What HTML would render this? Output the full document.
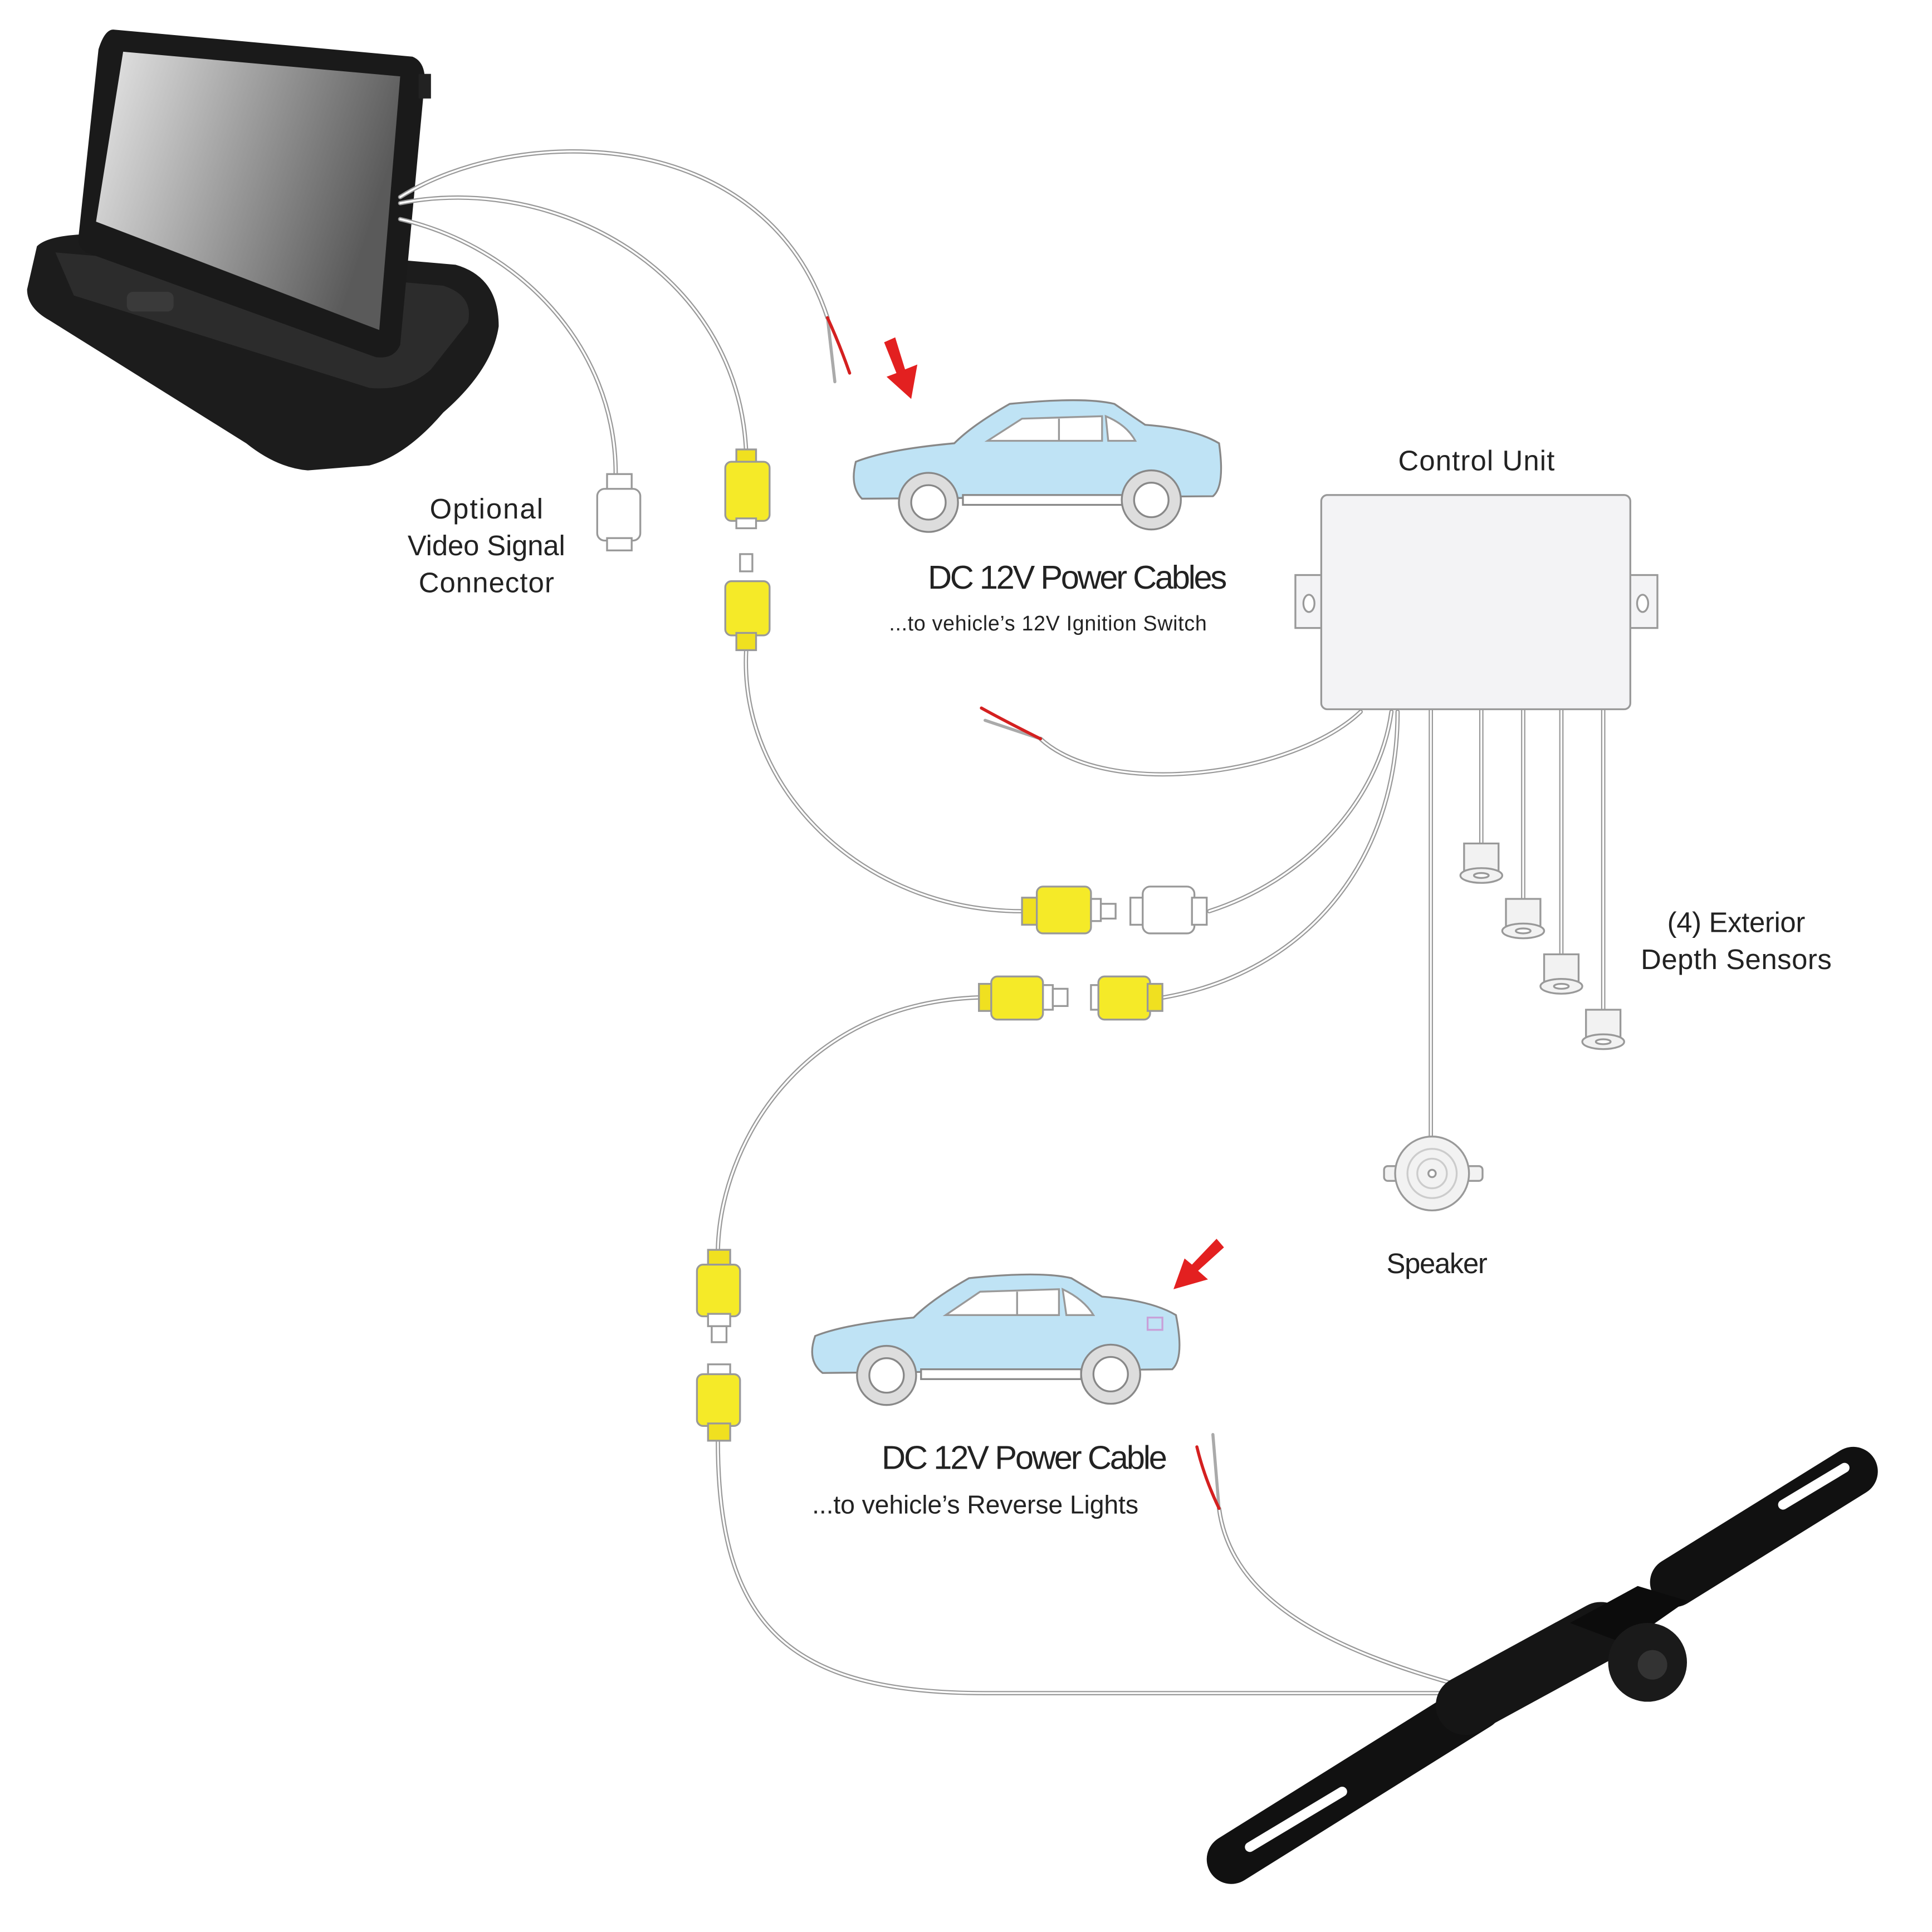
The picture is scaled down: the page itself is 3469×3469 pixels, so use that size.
<!DOCTYPE html>
<html><head><meta charset="utf-8"><style>html,body{margin:0;padding:0;background:#fff}svg{display:block}text{font-family:"Liberation Sans",sans-serif;fill:#222}</style></head><body>
<svg width="3469" height="3469" viewBox="0 0 1569 1569" xmlns="http://www.w3.org/2000/svg">
<defs>
<linearGradient id="scr" x1="0" y1="0" x2="1" y2="0.3"><stop offset="0" stop-color="#e8e8e8"/><stop offset="1" stop-color="#5a5a5a"/></linearGradient>
</defs>
<!-- monitor -->
<path d="M30,200 Q40,190 80,190 L370,215 Q405,225 405,265 Q400,300 360,335 Q330,370 300,378 L250,382 Q225,380 200,360 L40,260 Q22,250 22,235 Z" fill="#1c1c1c"/>
<path d="M45,205 L360,232 Q385,240 380,262 L350,300 Q330,318 300,315 L60,240 Z" fill="#2c2c2c"/>
<path d="M92,24 L335,46 Q345,50 345,65 L325,280 Q320,292 305,290 L70,205 Q62,200 64,190 L80,40 Q85,24 92,24 Z" fill="#1a1a1a"/>
<path d="M100,42 L325,62 L308,268 L78,180 Z" fill="url(#scr)"/>
<rect x="340" y="60" width="10" height="20" fill="#222"/>
<rect x="103" y="237" width="38" height="16" rx="5" fill="#3a3a3a"/>
<!-- cables -->
<g fill="none" stroke-linecap="round">
<g stroke="#999" stroke-width="3.5">
<path d="M325,160 C420,100 620,100 672,258"/>
<path d="M325,165 C450,140 600,220 606,368"/>
<path d="M325,178 C420,200 500,280 500,385"/>
<path d="M606,528 C600,640 700,740 830,740"/>
<path d="M982,740 C1060,715 1120,650 1130,578"/>
<path d="M945,810 C1060,790 1135,700 1135,578"/>
<path d="M795,810 C650,815 585,930 583,1015"/>
<path d="M583,1170 C583,1320 640,1375 800,1375 L1200,1375"/>
<path d="M1190,1370 C1080,1340 1000,1300 990,1225"/>
<path d="M1105,578 C1050,630 900,650 845,600"/>
<path d="M1203,576 V685 M1237,576 V730 M1268,576 V775 M1302,576 V820 M1162,576 V925"/>
</g>
<g stroke="#fff" stroke-width="1.5">
<path d="M325,160 C420,100 620,100 672,258"/>
<path d="M325,165 C450,140 600,220 606,368"/>
<path d="M325,178 C420,200 500,280 500,385"/>
<path d="M606,528 C600,640 700,740 830,740"/>
<path d="M982,740 C1060,715 1120,650 1130,578"/>
<path d="M945,810 C1060,790 1135,700 1135,578"/>
<path d="M795,810 C650,815 585,930 583,1015"/>
<path d="M583,1170 C583,1320 640,1375 800,1375 L1200,1375"/>
<path d="M1190,1370 C1080,1340 1000,1300 990,1225"/>
<path d="M1105,578 C1050,630 900,650 845,600"/>
<path d="M1203,576 V685 M1237,576 V730 M1268,576 V775 M1302,576 V820 M1162,576 V925"/>
</g>
<path d="M672,258 L678,310" stroke="#aaa" stroke-width="2.5"/>
<path d="M672,258 Q682,280 690,303" stroke="#d42020" stroke-width="2.5"/>
<path d="M845,600 L800,585" stroke="#aaa" stroke-width="2.5"/>
<path d="M845,600 Q815,585 797,575" stroke="#d42020" stroke-width="2.5"/>
<path d="M990,1225 L985,1165" stroke="#aaa" stroke-width="2.5"/>
<path d="M990,1225 Q978,1200 972,1175" stroke="#d42020" stroke-width="2.5"/>
</g>
<!-- connectors -->
<g stroke="#999" stroke-width="1.5">
<rect x="598" y="365" width="16" height="12" fill="#f0e020"/>
<rect x="589" y="375" width="36" height="48" rx="5" fill="#f5ea28"/>
<rect x="598" y="421" width="16" height="8" fill="#fff"/>
<rect x="601" y="450" width="10" height="14" fill="#fff"/>
<rect x="589" y="472" width="36" height="44" rx="5" fill="#f5ea28"/>
<rect x="598" y="514" width="16" height="14" fill="#f0e020"/>
<rect x="493" y="385" width="20" height="14" fill="#fff"/>
<rect x="485" y="397" width="35" height="42" rx="6" fill="#fff"/>
<rect x="493" y="437" width="20" height="10" fill="#fff"/>
<rect x="830" y="729" width="14" height="22" fill="#f0e020"/>
<rect x="842" y="720" width="44" height="38" rx="5" fill="#f5ea28"/>
<rect x="886" y="730" width="8" height="18" fill="#fff"/>
<rect x="894" y="734" width="12" height="12" fill="#fff"/>
<rect x="918" y="729" width="12" height="22" fill="#fff"/>
<rect x="928" y="720" width="42" height="38" rx="6" fill="#fff"/>
<rect x="968" y="729" width="12" height="22" fill="#fff"/>
<rect x="795" y="799" width="12" height="22" fill="#f0e020"/>
<rect x="805" y="793" width="42" height="35" rx="5" fill="#f5ea28"/>
<rect x="847" y="800" width="8" height="20" fill="#fff"/>
<rect x="855" y="803" width="12" height="14" fill="#fff"/>
<rect x="886" y="800" width="8" height="20" fill="#fff"/>
<rect x="892" y="793" width="42" height="35" rx="5" fill="#f5ea28"/>
<rect x="932" y="799" width="12" height="22" fill="#f0e020"/>
<rect x="575" y="1015" width="18" height="14" fill="#f0e020"/>
<rect x="566" y="1027" width="35" height="42" rx="5" fill="#f5ea28"/>
<rect x="575" y="1067" width="18" height="10" fill="#fff"/>
<rect x="578" y="1077" width="12" height="13" fill="#fff"/>
<rect x="575" y="1108" width="18" height="10" fill="#fff"/>
<rect x="566" y="1116" width="35" height="42" rx="5" fill="#f5ea28"/>
<rect x="575" y="1156" width="18" height="14" fill="#f0e020"/>
</g>
<!-- control unit -->
<g stroke="#999" stroke-width="1.5" fill="#f3f3f5">
<rect x="1052" y="467" width="24" height="43"/>
<rect x="1322" y="467" width="24" height="43"/>
<ellipse cx="1063" cy="490" rx="4.5" ry="7" fill="#fff"/>
<ellipse cx="1334" cy="490" rx="4.5" ry="7" fill="#fff"/>
<rect x="1073" y="402" width="251" height="174" rx="5"/>
</g>
<!-- sensors -->
<g stroke="#999" stroke-width="1.5" fill="#f2f2f2">
<path d="M1189,685 h28 v22 h-28 z"/><ellipse cx="1203" cy="711" rx="17" ry="6"/><ellipse cx="1203" cy="711" rx="6" ry="2" fill="#fff"/>
<path d="M1223,730 h28 v22 h-28 z"/><ellipse cx="1237" cy="756" rx="17" ry="6"/><ellipse cx="1237" cy="756" rx="6" ry="2" fill="#fff"/>
<path d="M1254,775 h28 v22 h-28 z"/><ellipse cx="1268" cy="801" rx="17" ry="6"/><ellipse cx="1268" cy="801" rx="6" ry="2" fill="#fff"/>
<path d="M1288,820 h28 v22 h-28 z"/><ellipse cx="1302" cy="846" rx="17" ry="6"/><ellipse cx="1302" cy="846" rx="6" ry="2" fill="#fff"/>
<rect x="1124" y="947" width="80" height="12" rx="3"/>
<circle cx="1163" cy="953" r="30"/>
<circle cx="1163" cy="953" r="20" fill="none" stroke="#ccc"/>
<circle cx="1163" cy="953" r="12" fill="none" stroke="#ccc"/>
<circle cx="1163" cy="953" r="3" fill="#fff"/>
</g>
<!-- cars -->
<g stroke="#888" stroke-width="1.5">
<path d="M695,375 Q690,395 700,405 L985,403 Q995,395 990,360 Q970,348 930,345 L905,328 Q880,322 820,328 Q790,345 775,360 Q720,365 695,375 Z" fill="#bfe3f5"/>
<path d="M802,358 L830,340 L895,338 L895,358 Z M860,340 L860,358 M898,338 Q915,345 922,358 L900,358 Z" fill="#fff" stroke="#999"/>
<rect x="782" y="402" width="130" height="8" fill="#fff"/>
<circle cx="754" cy="408" r="24" fill="#ddd"/><circle cx="754" cy="408" r="14" fill="#fff"/>
<circle cx="935" cy="406" r="24" fill="#ddd"/><circle cx="935" cy="406" r="14" fill="#fff"/>
<path d="M662,1085 Q655,1105 668,1115 L952,1112 Q962,1103 955,1068 Q935,1056 895,1053 L870,1038 Q845,1032 787,1038 Q757,1055 742,1070 Q687,1075 662,1085 Z" fill="#bfe3f5"/>
<path d="M768,1068 L796,1049 L860,1047 L860,1068 Z M826,1049 L826,1068 M863,1047 Q880,1055 888,1068 L866,1068 Z" fill="#fff" stroke="#999"/>
<path d="M932,1070 h12 v10 h-12 z" fill="none" stroke="#c8a0d8"/>
<rect x="748" y="1112" width="130" height="8" fill="#fff"/>
<circle cx="720" cy="1117" r="24" fill="#ddd"/><circle cx="720" cy="1117" r="14" fill="#fff"/>
<circle cx="902" cy="1116" r="24" fill="#ddd"/><circle cx="902" cy="1116" r="14" fill="#fff"/>
</g>
<!-- arrows -->
<path d="M718,278 L727,274 L735,300 L745,296 L740,324 L720,306 L728,303 Z" fill="#e32020"/>
<path d="M988,1006 L994,1013 L973,1032 L981,1039 L953,1047 L962,1022 L968,1027 Z" fill="#e32020"/>
<!-- camera -->
<g stroke-linecap="round" fill="none">
<path d="M1000,1510 L1200,1385" stroke="#111" stroke-width="40"/>
<path d="M1360,1285 L1505,1195" stroke="#111" stroke-width="40"/>
<path d="M1190,1385 L1300,1325" stroke="#151515" stroke-width="48"/>
<path d="M1015,1500 L1090,1455 M1448,1222 L1498,1192" stroke="#fff" stroke-width="8"/>
</g>
<path d="M1275,1318 L1330,1288 L1370,1300 L1320,1335 Z" fill="#0c0c0c"/>
<circle cx="1338" cy="1350" r="32" fill="#1a1a1a"/>
<circle cx="1342" cy="1352" r="12" fill="#333"/>
<!-- text -->
<text x="395" y="421" font-size="23" text-anchor="middle" textLength="92">Optional</text>
<text x="395" y="451" font-size="23" text-anchor="middle" textLength="128">Video Signal</text>
<text x="395" y="481" font-size="23" text-anchor="middle" textLength="110">Connector</text>
<text x="875" y="478" font-size="27" text-anchor="middle" textLength="243">DC 12V Power Cables</text>
<text x="851" y="512" font-size="17" text-anchor="middle" textLength="258">...to vehicle’s 12V Ignition Switch</text>
<text x="1199" y="382" font-size="23" text-anchor="middle" textLength="127">Control Unit</text>
<text x="1410" y="757" font-size="23" text-anchor="middle" textLength="112">(4) Exterior</text>
<text x="1410" y="787" font-size="23" text-anchor="middle" textLength="155">Depth  Sensors</text>
<text x="1167" y="1034" font-size="23" text-anchor="middle" textLength="82">Speaker</text>
<text x="832" y="1193" font-size="27" text-anchor="middle" textLength="232">DC 12V Power Cable</text>
<text x="792" y="1229" font-size="21" text-anchor="middle" textLength="265">...to vehicle’s Reverse Lights</text>
</svg>
</body></html>
